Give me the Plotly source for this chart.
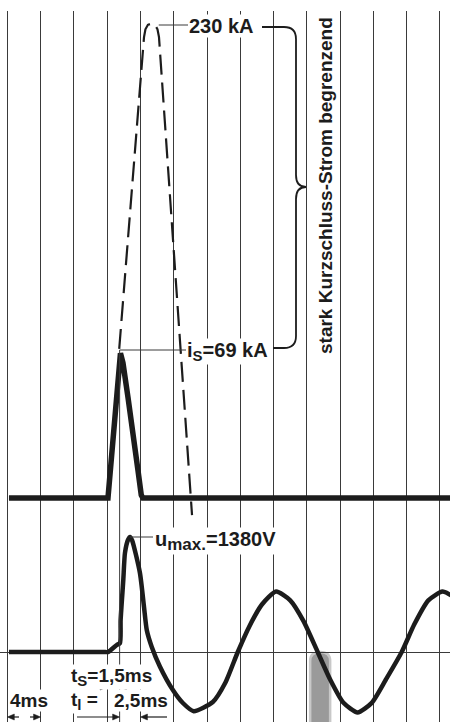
import plotly.graph_objects as go

# ---------------- data ----------------
grid_ms = [0, 4, 8, 12, 16, 20, 24, 28, 32, 36, 40, 44, 48, 52]   # 4 ms per division

# limited short-circuit current (solid), kA
cur_t = [0.2, 12.1, 13.6, 13.9, 14.5, 15.1, 15.7, 16.1, 16.3, 53.5]
cur_kA = [0, 0, 67.5, 63, 47, 31.7, 13, 1.4, 0, 0]

# prospective current (dashed), kA
pro_t = [13.45, 16.43, 16.6, 16.9, 17.33, 17.75, 18.05, 18.23, 22.2]
pro_kA = [69.5, 214.9, 218.5, 220.6, 221.2, 220.6, 218.5, 214.9, -8]

# arc / system voltage, V
volt_t = [0.2, 6.0, 11.6, 12.1, 13.15, 13.54, 13.62, 13.94, 14.14, 14.5, 14.75, 15.0,
          15.94, 16.43, 16.76, 17.35, 18.35, 19.9, 21.1, 22.4, 24.7, 26.2,
          27.7, 29.1, 30.6, 32.3, 34.0, 35.6, 37.3, 38.8, 40.4, 42.1,
          43.8, 45.5, 47.4, 48.9, 50.6, 52.3, 53.5]
volt_V = [0, 0, 0, 0, 84, 108, 384, 864, 1188, 1344, 1380, 1340,
          948, 540, 264, 64, -176, -456, -612, -710, -600, -370,
          0, 310, 570, 725, 620, 370, 0, -330, -610, -725,
          -610, -330, 0, 330, 620, 725, 670]

I_S = 69          # kA, cut-off current
I_PROSP = 230     # kA, prospective peak
U_MAX = 1380      # V
T_START = 12.0    # ms, start of short circuit
T_S = 1.5         # ms
T_L = 2.5         # ms
T_DIV = 4         # ms per division
T_ZERO = 37.6     # ms, current zero marker

# ---------------- geometry helpers (layout only) ----------------
W, H = 450, 722
TOP = 11
PX0 = 7.3                 # pixel of t = 0
PXMS = 8.321              # pixels per ms
Y0_I, PXKA = 498, 148 / 69
Y0_U, PXV = 652, 1 / 12.0

def px2t(px):
    return (px - PX0) / PXMS

def py2k(py):
    return (Y0_I - py) / PXKA

def py2v(py):
    return (Y0_U - py) / PXV

x_range = [px2t(0), px2t(W)]
yi_range = [py2k(H), py2k(TOP)]
yv_range = [py2v(H), py2v(TOP)]

INK = "#1c1c1c"
GRID = "#3a3a3a"
FONT = "Liberation Sans"
LBL = 19

fig = go.Figure()
fig.add_trace(go.Scatter(x=pro_t, y=pro_kA, mode="lines",
                         line=dict(color=INK, width=2.2, dash="20px,8px"),
                         hoverinfo="skip", showlegend=False))
fig.add_trace(go.Scatter(x=cur_t, y=cur_kA, mode="lines",
                         line=dict(color=INK, width=5.5),
                         hoverinfo="skip", showlegend=False))
fig.add_trace(go.Scatter(x=volt_t, y=volt_V, mode="lines", yaxis="y2",
                         line=dict(color=INK, width=4.5, shape="spline", smoothing=0.6),
                         hoverinfo="skip", showlegend=False))

shapes = []
# current-zero marker (grey bar with rounded top)
def PV(t, v):
    return f"{t:.3f},{v:.1f}"

bw = 1.2
r_v = 9 / PXV
bar = (f"M{PV(T_ZERO - bw, yv_range[0] - 60)} L{PV(T_ZERO - bw, -r_v)} "
       f"Q{PV(T_ZERO - bw, 0)} {PV(T_ZERO, 0)} Q{PV(T_ZERO + bw, 0)} {PV(T_ZERO + bw, -r_v)} "
       f"L{PV(T_ZERO + bw, yv_range[0] - 60)} Z")
shapes.append(dict(type="path", xref="x", yref="y2", layer="below", path=bar,
                   fillcolor="#9a9a9a", line=dict(color="#c8c8c8", width=2.5)))
# t_s marker line
shapes.append(dict(type="line", xref="x", yref="y", x0=T_START + T_S, x1=T_START + T_S,
                   y0=I_S, y1=yi_range[0], line=dict(color=GRID, width=1)))
# leaders
shapes.append(dict(type="line", xref="x", yref="y", x0=18.2, x1=px2t(188),
                   y0=py2k(25), y1=py2k(25), line=dict(color=GRID, width=1)))
shapes.append(dict(type="line", xref="x", yref="y", x0=T_START + T_S, x1=px2t(186),
                   y0=I_S, y1=I_S, line=dict(color=GRID, width=1)))
shapes.append(dict(type="line", xref="x", yref="y2", x0=14.75, x1=px2t(153),
                   y0=U_MAX, y1=U_MAX, line=dict(color=GRID, width=1)))

# brace
def P(px, py):
    return f"{px2t(px):.3f},{py2k(py):.3f}"

brace = (f"M{P(262,27)} L{P(284,27)} Q{P(296,27)} {P(296,39)} L{P(296,175)} "
         f"Q{P(296,187)} {P(306,187)} Q{P(296,187)} {P(296,199)} L{P(296,336)} "
         f"Q{P(296,348)} {P(284,348)} L{P(273,348)}")
shapes.append(dict(type="path", xref="x", yref="y", path=brace,
                   line=dict(color=INK, width=1.8)))

# dimension arrows (line + solid head)
HEAD_L, HEAD_W = 7 / PXMS, 3 / PXV

def arrow(x_head, x_tail, py):
    v = py2v(py)
    d = 1 if x_head > x_tail else -1
    shapes.append(dict(type="line", xref="x", yref="y2", x0=x_tail, x1=x_head - d * HEAD_L * 0.5,
                       y0=v, y1=v, line=dict(color=INK, width=1.2)))
    base = x_head - d * HEAD_L
    tri = f"M{PV(x_head, v)} L{PV(base, v + HEAD_W)} L{PV(base, v - HEAD_W)} Z"
    shapes.append(dict(type="path", xref="x", yref="y2", path=tri,
                       fillcolor=INK, line=dict(color=INK, width=0.5)))

arrow(T_START, px2t(80), 687)
arrow(T_START + T_S, px2t(133), 687)
arrow(0, px2t(19), 717)
arrow(T_DIV, px2t(30), 717)
arrow(T_START + T_S, px2t(77), 717)
arrow(T_START + T_S + T_L, px2t(167), 717)

ann = []
def label(text, x, y, yref="y", size=LBL, xanchor="left", angle=0, bg="white"):
    ann.append(dict(text=text, x=x, y=y, xref="x", yref=yref, showarrow=False,
                    xanchor=xanchor, yanchor="middle", textangle=angle,
                    bgcolor=bg, borderpad=0,
                    font=dict(family=FONT, size=size, color=INK, weight="bold")))

def sub(s, size=15):
    return f"<sub><span style='font-size:{size}px'>{s}</span></sub>"

label(f"{I_PROSP} kA", px2t(188), py2k(26), size=20)
label(f"i{sub('S')}={I_S} kA", px2t(186), py2k(351), size=20)
label(f"u{sub('max.', 17)}={U_MAX}V", px2t(154), py2v(541), yref="y2", size=20)
label("stark Kurzschluss-Strom begrenzend", px2t(325), py2k(186), size=19,
      xanchor="center", angle=-90, bg="rgba(0,0,0,0)")
label(f"t{sub('S')}=1,5ms", px2t(70), py2v(677), yref="y2")
label(f"t{sub('l')} =", px2t(70), py2v(701), yref="y2")
label("2,5ms", px2t(113), py2v(700), yref="y2")
label(f"{T_DIV}ms", px2t(9), py2v(700), yref="y2")

fig.update_layout(
    width=W, height=H,
    margin=dict(l=0, r=0, t=TOP, b=0, pad=0),
    paper_bgcolor="white", plot_bgcolor="white",
    showlegend=False,
    xaxis=dict(range=x_range, tickvals=grid_ms, showgrid=True, gridcolor=GRID,
               gridwidth=1, showticklabels=False, ticks="", zeroline=False,
               showline=False, fixedrange=True),
    yaxis=dict(range=yi_range, visible=False, fixedrange=True),
    yaxis2=dict(range=yv_range, overlaying="y", showgrid=False, zeroline=True,
                zerolinecolor=GRID, zerolinewidth=1, showticklabels=False,
                ticks="", showline=False, fixedrange=True),
    shapes=shapes, annotations=ann,
)

fig.write_html("out.html", config={"displayModeBar": False},
               post_script="document.body.style.margin='0';document.body.style.overflow='hidden';")
